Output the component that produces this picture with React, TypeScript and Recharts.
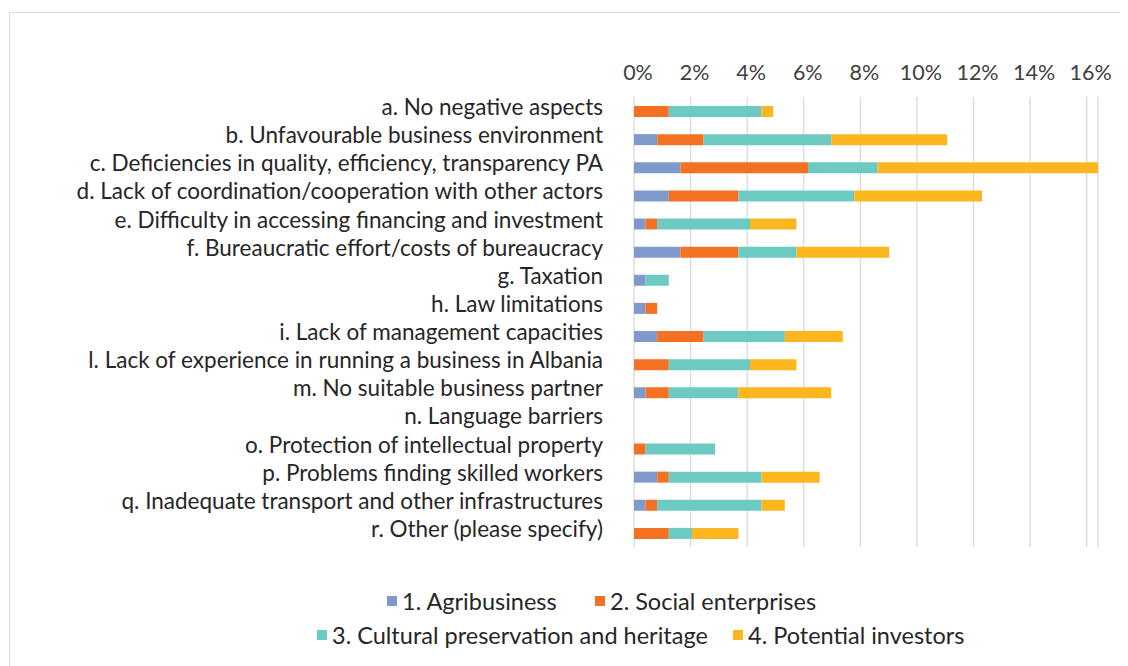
import { BarChart, Bar, XAxis, YAxis, CartesianGrid, Legend } from 'recharts';

const categories = [
  'a. No negative aspects',
  'b. Unfavourable business environment',
  'c. Deficiencies in quality, efficiency, transparency PA',
  'd. Lack of coordination/cooperation with other actors',
  'e. Difficulty in accessing financing and investment',
  'f. Bureaucratic effort/costs of bureaucracy',
  'g. Taxation',
  'h. Law limitations',
  'i. Lack of management capacities',
  'l. Lack of experience in running a business in Albania',
  'm. No suitable business partner',
  'n. Language barriers',
  'o. Protection of intellectual property',
  'p. Problems finding skilled workers',
  'q. Inadequate transport and other infrastructures',
  'r. Other (please specify)',
];

// shares in %, one value per category
const agribusiness = [0, 0.82, 1.64, 1.23, 0.41, 1.64, 0.41, 0.41, 0.82, 0, 0.41, 0, 0, 0.82, 0.41, 0];
const socialEnterprises = [1.23, 1.64, 4.51, 2.46, 0.41, 2.05, 0, 0.41, 1.64, 1.23, 0.82, 0, 0.41, 0.41, 0.41, 1.23];
const culturalHeritage = [3.28, 4.51, 2.46, 4.1, 3.28, 2.05, 0.82, 0, 2.87, 2.87, 2.46, 0, 2.46, 3.28, 3.69, 0.82];
const potentialInvestors = [0.41, 4.1, 7.79, 4.51, 1.64, 3.28, 0, 0, 2.05, 1.64, 3.28, 0, 0, 2.05, 0.82, 1.64];

const xTicks = [0, 2, 4, 6, 8, 10, 12, 14, 16];

const series = [
  { key: 'agri', name: '1. Agribusiness', color: '#7F99CB', values: agribusiness },
  { key: 'social', name: '2. Social enterprises', color: '#F47022', values: socialEnterprises },
  { key: 'cultural', name: '3. Cultural preservation and heritage', color: '#6DCAC3', values: culturalHeritage },
  { key: 'investors', name: '4. Potential investors', color: '#FDB61D', values: potentialInvestors },
];

const data = categories.map((name, i) => {
  const row: Record<string, any> = { name };
  series.forEach((s) => (row[s.key] = s.values[i]));
  return row;
});

const FONT = 'Lato, "Open Sans", sans-serif';

// legend item positions (px inside the legend box)
const legendSpots = [
  { left: 379, top: 42 },
  { left: 587, top: 42 },
  { left: 309, top: 76 },
  { left: 725, top: 76 },
];

const LegendBox = () => (
  <div style={{ position: 'relative', height: 110, width: '100%', fontFamily: FONT }}>
    {series.map((s, i) => (
      <div
        key={s.key}
        style={{
          position: 'absolute',
          left: legendSpots[i].left,
          top: legendSpots[i].top,
          display: 'flex',
          alignItems: 'center',
          whiteSpace: 'nowrap',
          fontSize: 23.5,
          color: '#262626',
          lineHeight: '24px',
        }}
      >
        <span style={{ width: 10, height: 10, background: s.color, marginRight: 5, display: 'inline-block' }} />
        {s.name}
      </div>
    ))}
  </div>
);

export default function App() {
  return (
    <div style={{ position: 'relative', width: 1120, height: 658, overflow: 'hidden' }}>
      <div
        style={{
          position: 'absolute',
          left: 1,
          top: 4,
          width: 1140,
          height: 680,
          border: '1px solid #d9d9d9',
          boxSizing: 'border-box',
        }}
      />
      <div style={{ position: 'absolute', left: 0, top: 0 }}>
        <BarChart
          width={1110}
          height={649}
          data={data}
          layout="vertical"
          barSize={11}
          margin={{ top: 0, right: 20, bottom: 0, left: 0 }}
        >
          <CartesianGrid horizontal={false} stroke="#d9d9d9" strokeWidth={1.3} />
          <XAxis
            type="number"
            orientation="top"
            domain={[0, 16.4]}
            ticks={xTicks}
            tickFormatter={(v) => `${v}%`}
            axisLine={false}
            tickLine={false}
            tickSize={0}
            tickMargin={17}
            height={89}
            interval={0}
            tick={{ fill: '#404040', fontSize: 21.5, fontFamily: FONT, dx: 4 }}
          />
          <YAxis
            type="category"
            dataKey="name"
            width={626}
            axisLine={false}
            tickLine={false}
            tickSize={0}
            tickMargin={31}
            interval={0}
            tick={{ fill: '#262626', fontSize: 22.5, fontFamily: FONT, dy: -4 }}
          />
          <Legend verticalAlign="bottom" content={() => <LegendBox />} />
          {series.map((s) => (
            <Bar key={s.key} dataKey={s.key} name={s.name} stackId="a" fill={s.color} isAnimationActive={false} />
          ))}
        </BarChart>
      </div>
    </div>
  );
}
